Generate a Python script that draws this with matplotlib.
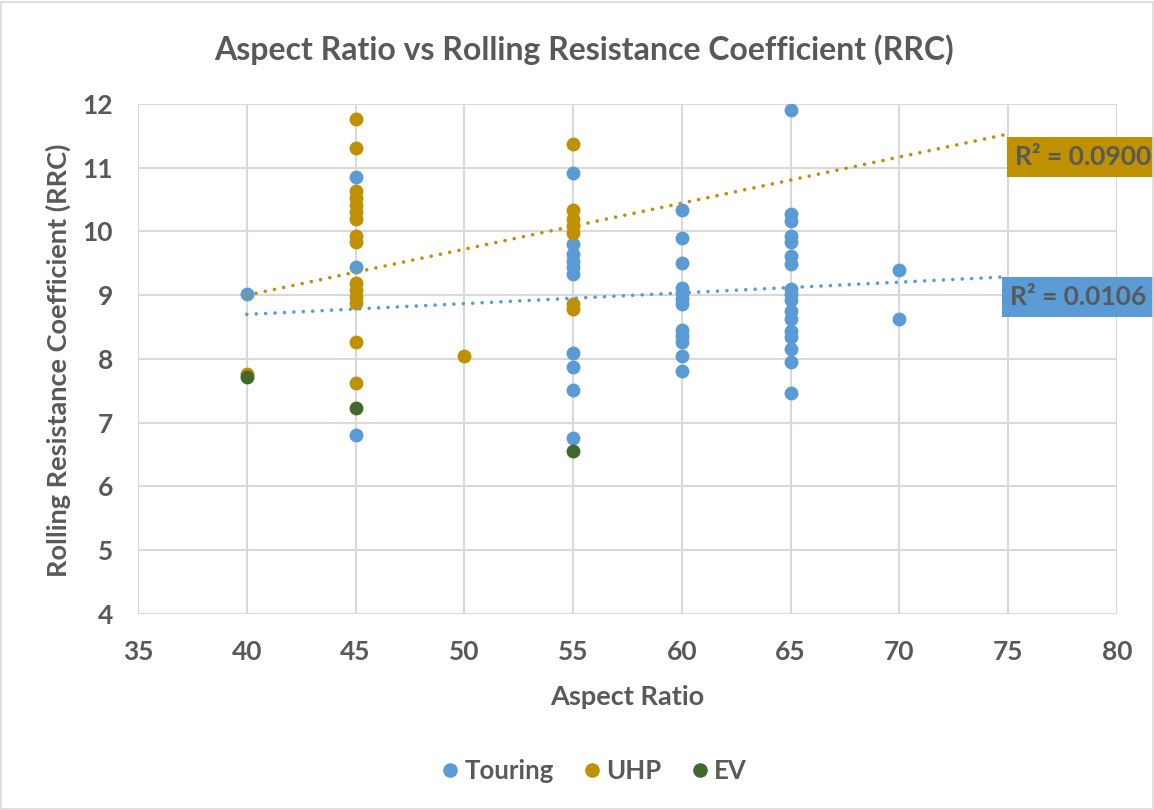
import matplotlib
matplotlib.use("Agg")
import matplotlib.pyplot as plt
from matplotlib.patches import Rectangle
from matplotlib.lines import Line2D

plt.rcParams['font.family'] = ['Lato', 'DejaVu Sans']

# ---- data ----
touring_x = [40,
             45, 45, 45,
             55, 55, 55, 55, 55, 55, 55, 55, 55, 55,
             60, 60, 60, 60, 60, 60, 60, 60, 60, 60, 60, 60,
             65, 65, 65, 65, 65, 65, 65, 65, 65, 65, 65, 65, 65, 65, 65, 65, 65,
             70, 70]
touring_y = [9.02,
             10.85, 9.45, 6.81,
             10.91, 9.80, 9.64, 9.54, 9.44, 9.34, 8.10, 7.88, 7.52, 6.76,
             10.34, 9.90, 9.50, 9.12, 9.03, 8.94, 8.86, 8.46, 8.36, 8.27, 8.04, 7.81,
             11.90, 10.27, 10.17, 9.93, 9.83, 9.62, 9.49, 9.10, 9.02, 8.93, 8.75, 8.63,
             8.44, 8.34, 8.15, 7.95, 7.47,
             9.39, 8.62]

uhp_x = [40,
         45, 45, 45, 45, 45, 45, 45, 45, 45, 45, 45, 45, 45, 45, 45,
         50,
         55, 55, 55, 55, 55, 55, 55]
uhp_y = [7.77,
         11.76, 11.31, 10.63, 10.52, 10.41, 10.30, 10.19, 9.93, 9.83, 9.19, 9.08, 8.98, 8.88, 8.26, 7.63,
         8.05,
         11.38, 10.33, 10.20, 10.09, 9.97, 8.86, 8.78]

ev_x = [40, 45, 55]
ev_y = [7.72, 7.23, 6.56]

# trend lines (Excel linear trendlines, forward forecast to 75)
trend_x = [40, 75]
touring_trend_y = [8.70, 9.29]
uhp_trend_y = [9.00, 11.53]
touring_r2 = "R² = 0.0106"
uhp_r2 = "R² = 0.0900"

series_names = ["Touring", "UHP", "EV"]
colors = ["#5B9BD5", "#BF9000", "#43682B"]

x_ticks = [35, 40, 45, 50, 55, 60, 65, 70, 75, 80]
y_ticks = [4, 5, 6, 7, 8, 9, 10, 11, 12]

title = "Aspect Ratio vs Rolling Resistance Coefficient (RRC)"
xlabel = "Aspect Ratio"
ylabel = "Rolling Resistance Coefficient (RRC)"

# ---- figure ----
W, H = 1154, 810
fig = plt.figure(figsize=(W / 100, H / 100), dpi=100)
text_color = "#595959"
grid_color = "#D9D9D9"

fig.patches.append(Rectangle((1 / W, 1 / H), (W - 2) / W, (H - 3) / H, transform=fig.transFigure,
                             fill=False, edgecolor=grid_color, linewidth=1.2))

left, right, top, bottom = 138, 1117, 104, 614
ax = fig.add_axes([left / W, 1 - bottom / H, (right - left) / W, (bottom - top) / H])
ax.set_xlim(35, 80)
ax.set_ylim(4, 12)
ax.set_xticks(x_ticks)
ax.set_yticks(y_ticks)
ax.grid(True, color=grid_color, linewidth=1.5)
ax.set_axisbelow(True)
for s in ax.spines.values():
    s.set_visible(False)
ax.tick_params(length=0, labelsize=19, labelcolor=text_color)
ax.tick_params(axis='y', pad=18)
ax.tick_params(axis='x', pad=19)
for lab in ax.get_xticklabels() + ax.get_yticklabels():
    lab.set_fontweight('bold')

ms = 100
ax.scatter(touring_x, touring_y, s=ms, color=colors[0], zorder=3, linewidths=0)
ax.scatter(uhp_x, uhp_y, s=ms, color=colors[1], zorder=4, linewidths=0)
ax.scatter(ev_x, ev_y, s=ms, color=colors[2], zorder=5, linewidths=0)

dot = (0, (0.01, 2.6))
ax.plot(trend_x, uhp_trend_y, color=colors[1], linewidth=2.6, linestyle=dot,
        dash_capstyle='round', zorder=6)
ax.plot(trend_x, touring_trend_y, color=colors[0], linewidth=2.6, linestyle=dot,
        dash_capstyle='round', zorder=6)

# R² labels
ax.text(75.3, 11.17, uhp_r2, fontsize=19, fontweight='bold', color=text_color,
        ha='left', va='center', zorder=7, clip_on=False,
        bbox=dict(boxstyle='square,pad=0.3', facecolor=colors[1], edgecolor='none'))
ax.text(75.1, 8.97, touring_r2, fontsize=19, fontweight='bold', color=text_color,
        ha='left', va='center', zorder=7, clip_on=False,
        bbox=dict(boxstyle='square,pad=0.3', facecolor=colors[0], edgecolor='none'))

fig.text(584 / W, 1 - 50 / H, title, fontsize=23, fontweight='bold', color=text_color,
         ha='center', va='center')
fig.text(627 / W, 1 - 697 / H, xlabel, fontsize=19.5, fontweight='bold', color=text_color,
         ha='center', va='center')
fig.text(58 / W, 1 - 360 / H, ylabel, fontsize=19.5, fontweight='bold', color=text_color,
         ha='center', va='center', rotation=90)

handles = [Line2D([], [], marker='o', linestyle='none', markersize=10.5, color=c,
                  markeredgewidth=0) for c in colors]
leg = fig.legend(handles, series_names, loc='center', bbox_to_anchor=(592 / W, 1 - 771 / H),
                 ncol=3, frameon=False, fontsize=18.5, handletextpad=0.05, columnspacing=1.0,
                 handlelength=1.0)
for t in leg.get_texts():
    t.set_color(text_color)
    t.set_fontweight('bold')

fig.savefig("out.png", dpi=100)
